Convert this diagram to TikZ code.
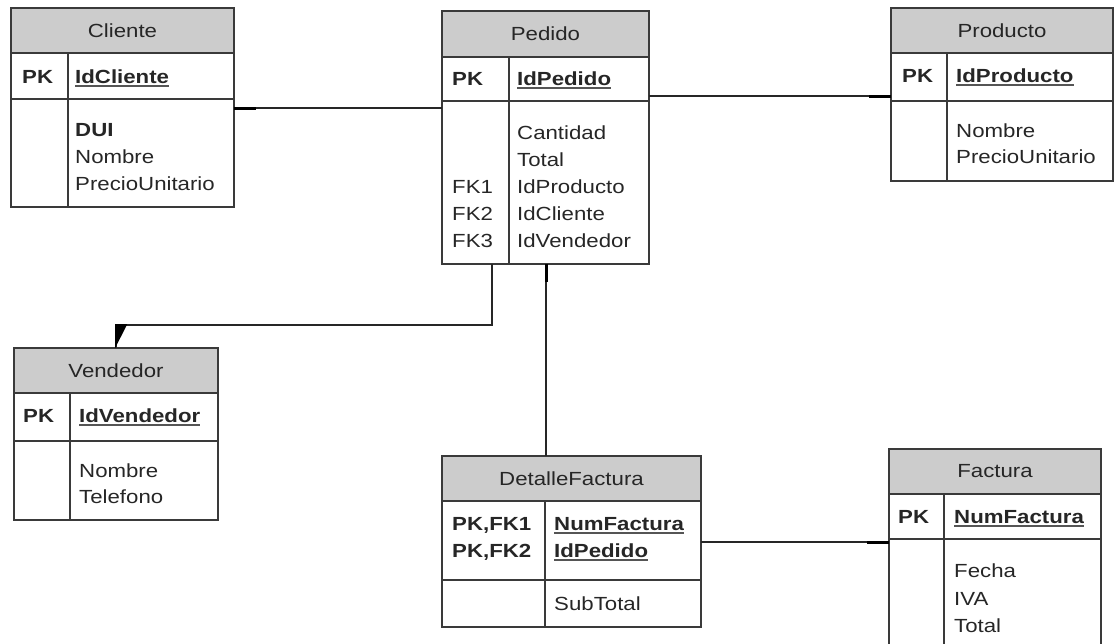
\documentclass[tikz,border=0pt]{standalone}
\usepackage{fontspec}
\usetikzlibrary{calc}
\setmainfont{Liberation Sans}[FakeStretch=1.17]
\definecolor{hdrfill}{HTML}{CCCCCC}
\definecolor{linecol}{HTML}{3A3A3A}
\definecolor{txtcol}{HTML}{262626}
\definecolor{ulcol}{HTML}{555555}
\newcommand\ulx[1]{{\setbox0\hbox{#1}\rlap{\raisebox{-3.5pt}{\color{ulcol}\rule{\wd0}{1.6pt}}}\box0}}
\tikzset{
  tblbox/.style={draw=linecol, line width=1.6pt, inner sep=0pt, outer sep=0pt},
  tblline/.style={draw=linecol, line width=1.6pt},
  hdrtext/.style={text=txtcol, font=\fontsize{19}{27}\selectfont, inner sep=0pt},
  fld/.style={text=txtcol, font=\fontsize{19}{27}\selectfont, anchor=base west, inner sep=0pt},
  key/.style={fld, font=\fontsize{19}{27}\selectfont\bfseries},
  conn/.style={draw=black!85, line width=1.6pt},
  onemark/.style={draw=black, line width=3pt}
}
% name, x1, y1, x2, y2, y header bottom, y pk bottom, x divider, title
\newcommand\ertbl[9]{%
  \fill[hdrfill] (#2,#3) rectangle (#4,#6);
  \node[tblbox, anchor=north west, minimum width={#4-#2}, minimum height={#5-#3}] (#1) at (#2,#3) {};
  \draw[tblline] (#2,#6) -- (#4,#6) (#2,#7) -- (#4,#7) (#8,#6) -- (#8,#5);
  \node[hdrtext] (#1-title) at ({(#2+#4)/2},{(#3+#6)/2}) {#9};
}
\begin{document}
\begin{tikzpicture}[x=1pt,y=-1pt]
\useasboundingbox (0,0) rectangle (1116,643);
\begin{scope}
\clip (0,0) rectangle (1116,643);
% Cliente
\ertbl{cliente}{11}{8}{234}{207}{53}{99}{68}{Cliente}
\node[key] (cliente-pk) at (22,83) {PK};
\node[key] (cliente-id) at (75,83) {\ulx{IdCliente}};
\node[key] (cliente-f1) at (75,136) {DUI};
\node[fld] (cliente-f2) at (75,163) {Nombre};
\node[fld] (cliente-f3) at (75,190) {PrecioUnitario};

% Pedido
\ertbl{pedido}{442}{11}{649}{264}{57}{101}{509}{Pedido}
\node[key] (pedido-pk) at (452,85) {PK};
\node[key] (pedido-id) at (517,85) {\ulx{IdPedido}};
\node[fld] (pedido-f1) at (517,139) {Cantidad};
\node[fld] (pedido-f2) at (517,166) {Total};
\node[fld] (pedido-fk1) at (452,193) {FK1};
\node[fld] (pedido-f3) at (517,193) {IdProducto};
\node[fld] (pedido-fk2) at (452,220) {FK2};
\node[fld] (pedido-f4) at (517,220) {IdCliente};
\node[fld] (pedido-fk3) at (452,247) {FK3};
\node[fld] (pedido-f5) at (517,247) {IdVendedor};

% Producto
\ertbl{producto}{891}{8}{1113}{181}{53}{101}{947}{Producto}
\node[key] (producto-pk) at (902,82) {PK};
\node[key] (producto-id) at (956,82) {\ulx{IdProducto}};
\node[fld] (producto-f1) at (956,137) {Nombre};
\node[fld] (producto-f2) at (956,163) {PrecioUnitario};

% Vendedor
\ertbl{vendedor}{14}{348}{218}{520}{393}{441}{70}{Vendedor}
\node[key] (vendedor-pk) at (23,422) {PK};
\node[key] (vendedor-id) at (79,422) {\ulx{IdVendedor}};
\node[fld] (vendedor-f1) at (79,477) {Nombre};
\node[fld] (vendedor-f2) at (79,503) {Telefono};

% DetalleFactura
\ertbl{detalle}{442}{456}{701}{627}{501}{580}{545}{DetalleFactura}
\node[key] (detalle-pk1) at (452,530) {PK,FK1};
\node[key] (detalle-pk2) at (452,557) {PK,FK2};
\node[key] (detalle-id1) at (554,530) {\ulx{NumFactura}};
\node[key] (detalle-id2) at (554,557) {\ulx{IdPedido}};
\node[fld] (detalle-f1) at (554,610) {SubTotal};

% Factura
\ertbl{factura}{889}{449}{1101}{680}{494}{539}{944}{Factura}
\node[key] (factura-pk) at (898,523) {PK};
\node[key] (factura-id) at (954,523) {\ulx{NumFactura}};
\node[fld] (factura-f1) at (954,577) {Fecha};
\node[fld] (factura-f2) at (954,605) {IVA};
\node[fld] (factura-f3) at (954,632) {Total};

% connector levels
\coordinate (ycp) at (0,108);
\coordinate (ypp) at (0,96);
\coordinate (ydf) at (0,542);
\coordinate (xpv) at (492,0);
\coordinate (xpd) at (546,0);
\coordinate (ypv) at (0,325);
\coordinate (xv) at (116,0);

% Cliente - Pedido
\draw[conn] (cliente.east |- ycp) -- (pedido.west |- ycp);
\draw[onemark] (cliente.east |- ycp) -- ++(22,0);
% Pedido - Producto
\draw[conn] (pedido.east |- ypp) -- (producto.west |- ypp);
\draw[onemark] (producto.west |- ypp) -- ++(-22,0);
% Pedido - Vendedor
\draw[conn] (pedido.south -| xpv) -- (xpv |- ypv) -- (xv |- ypv) -- (vendedor.north -| xv);
\fill[black] ($(xv |- ypv)+(-0.8,-0.8)$) -- ++(12,0) -- ($(vendedor.north -| xv)+(-0.8,0)$) -- cycle;
% Pedido - DetalleFactura
\draw[conn] (pedido.south -| xpd) -- (detalle.north -| xpd);
\draw[onemark] (pedido.south -| xpd) -- ++(0,18);
% DetalleFactura - Factura
\draw[conn] (detalle.east |- ydf) -- (factura.west |- ydf);
\draw[onemark] (factura.west |- ydf) -- ++(-22,0);
\end{scope}
\end{tikzpicture}
\end{document}
